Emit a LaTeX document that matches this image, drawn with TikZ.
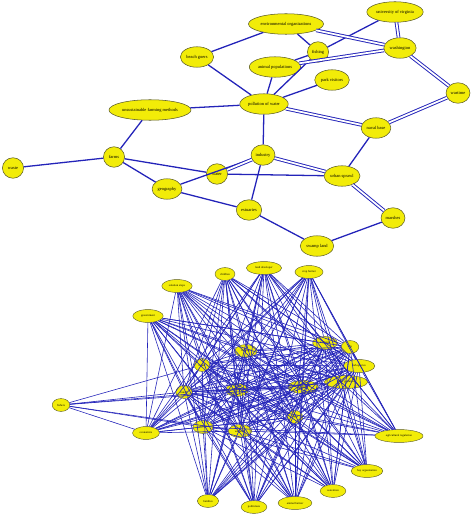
\documentclass[tikz,border=0pt]{standalone}
\usepackage{fontspec}
\setmainfont{Liberation Serif}
\definecolor{edgeblue}{RGB}{35,35,185}
\definecolor{nodeyellow}{RGB}{242,236,8}
\definecolor{nodeline}{RGB}{90,90,40}
\usetikzlibrary{shapes.geometric}

\begin{document}
\begin{tikzpicture}[
    x=0.03cm, y=-0.03cm,
    ent/.style={ellipse, draw=nodeline, fill=nodeyellow, line width=0.45pt,
                inner xsep=1pt, inner ysep=0pt, minimum height=17.5pt,
                minimum width=18pt, font=\fontsize{3.8}{4.5}\selectfont},
    sm/.style={ellipse, draw=nodeline, fill=nodeyellow, line width=0.35pt,
               inner xsep=0pt, inner ysep=0pt, minimum height=11pt,
               font=\fontsize{2.5}{3}\selectfont},
    link/.style={edgeblue, line width=1.1pt},
    dlink/.style={edgeblue, line width=0.8pt, double=white, double distance=1.5pt},
    mesh/.style={edgeblue, line width=0.5pt}
  ]
  \useasboundingbox (0,0) rectangle (474,516);

  % upper map
  \node[ent] (envorg) at (286,24)  {environmental organizations};
  \node[ent] (uva)    at (395,12)  {university of virginia};
  \node[ent] (wash)   at (400,48)  {washington};
  \node[ent] (fish)   at (318,52)  {fishing};
  \node[ent] (beach)  at (197,57)  {beach goers};
  \node[ent] (animal) at (275,67)  {animal populations};
  \node[ent] (park)   at (332,80)  {park visitors};
  \node[ent] (war)    at (458,93)  {wartime};
  \node[ent] (pollu)  at (264,104) {pollution of water};
  \node[ent] (naval)  at (376,128) {naval base};
  \node[ent] (unsust) at (150,110) {unsustainable farming methods};
  \node[ent] (farms)  at (114,157) {farms};
  \node[ent] (waste)  at (13,168)  {waste};
  \node[ent] (water)  at (217,174) {water};
  \node[ent] (geo)    at (167,189) {geography};
  \node[ent] (indus)  at (263,155) {industry};
  \node[ent] (urban)  at (342,176) {urban sprawl};
  \node[ent] (estu)   at (249,210) {estuaries};
  \node[ent] (swamp)  at (317,246) {swamp land};
  \node[ent] (marsh)  at (393,218) {marshes};

  \foreach \a/\b in {envorg/beach, envorg/fish, uva/fish, animal/fish,
                     animal/pollu, beach/pollu, fish/pollu, park/pollu,
                     pollu/unsust, pollu/indus, naval/urban, unsust/farms,
                     farms/waste, farms/water, farms/geo, geo/indus,
                     geo/estu, water/urban, indus/estu, estu/swamp,
                     swamp/marsh}
    \draw[link] (\a) -- (\b);
  \foreach \a/\b in {envorg/wash, uva/wash, animal/wash, pollu/naval,
                     wash/war, war/naval, water/indus, indus/urban,
                     urban/marsh}
    \draw[dlink] (\a) -- (\b);

  % lower map, outer ring
  \node[sm, minimum width=17pt] (o1)  at (225,274) {children};
  \node[sm, minimum width=30pt] (o2)  at (264,268) {land developer};
  \node[sm, minimum width=24pt] (o3)  at (309,272) {crop farmer};
  \node[sm, minimum width=26pt] (o4)  at (177,286) {solution steps};
  \node[sm, minimum width=26pt] (o5)  at (148,316) {government};
  \node[sm, minimum width=15pt] (o6)  at (61,405)  {fishers};
  \node[sm, minimum width=23pt] (o7)  at (146,433) {economics};
  \node[sm, minimum width=18pt] (o8)  at (208,501) {families};
  \node[sm, minimum width=22pt] (o9)  at (254,507) {politicians};
  \node[sm, minimum width=29pt] (o10) at (295,503) {animal farmer};
  \node[sm, minimum width=22pt] (o11) at (333,491) {watermen};
  \node[sm, minimum width=27pt] (o12) at (367,471) {bay organization};
  \node[sm, minimum width=41pt] (o13) at (399,436) {agricultural regulation};

  % lower map, inner cluster
  \node[sm, minimum width=19pt] (n1)  at (246,351) {industry};
  \node[sm, minimum width=13pt] (n2)  at (202,365) {farms};
  \node[sm, minimum width=14pt] (n3)  at (184,392) {runoff};
  \node[sm, minimum width=19pt] (n4)  at (237,390) {water};
  \node[sm, minimum width=17pt] (n5)  at (203,427) {sewage};
  \node[sm, minimum width=20pt] (n6)  at (240,431) {wetlands};
  \node[sm, minimum width=13pt] (n7)  at (295,417) {algae};
  \node[sm, minimum width=26pt] (n8)  at (303,387) {sediment};
  \node[sm, minimum width=37pt] (n9)  at (346,382) {water pollution};
  \node[sm, minimum width=27pt] (n10) at (359,366) {fish species};
  \node[sm, minimum width=15pt] (n11) at (350,347) {bay};
  \node[sm, minimum width=21pt] (n12) at (325,343) {nutrients};

  \foreach \i in {1,...,11} {
    \pgfmathtruncatemacro\k{\i+1}
    \foreach \j in {\k,...,12}
      \draw[mesh] (n\i) -- (n\j);
  }
  \foreach \i in {1,...,12}
    \foreach \o in {1,2,3,4,5,7,8,9,10,11,12,13}
      \draw[mesh] (n\i) -- (o\o);
  \foreach \a in {1,...,5}
    \foreach \b in {7,...,13}
      \draw[mesh] (o\a) -- (o\b);
  \foreach \b in {n2,n3,n4,n5,n6,n8,o7}
    \draw[mesh] (o6) -- (\b);
\end{tikzpicture}
\end{document}
